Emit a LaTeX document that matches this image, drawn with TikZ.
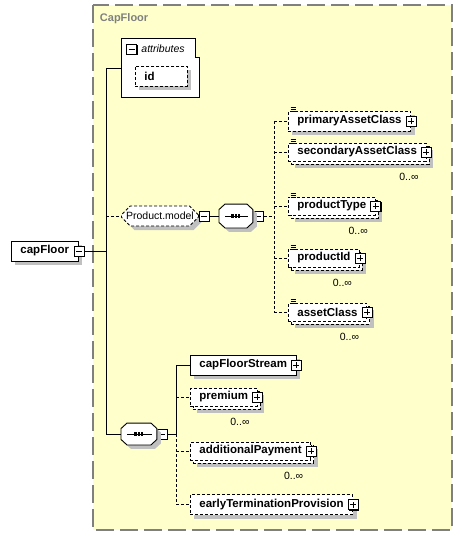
\documentclass[tikz,border=0pt]{standalone}
\usepackage{fontspec}
\setmainfont{Liberation Sans}
\usetikzlibrary{shadows,shapes.misc}

\definecolor{groupfill}{HTML}{FFFFCC}
\definecolor{groupline}{HTML}{808080}
\definecolor{shadowgray}{HTML}{C0C0C0}

\newcommand{\elemfont}{\fontsize{11.5}{13}\selectfont\bfseries}
\newcommand{\plainfont}{\fontsize{10.5}{12}\selectfont}

\tikzset{
  elem/.style={draw, fill=white, font=\elemfont, anchor=west, minimum height=20pt, inner xsep=9pt, inner ysep=0pt},
  opt/.style={dash pattern=on 3pt off 2pt},
  shad/.style={drop shadow={shadow xshift=4pt, shadow yshift=-4pt, opacity=1, fill=shadowgray}},
  multi/.style={minimum height=18pt, drop shadow={shadow xshift=7pt, shadow yshift=-7pt, opacity=1, fill=shadowgray},
    preaction={draw, fill=white, transform canvas={shift={(3pt,-3pt)}}}},
  grp/.style={draw, fill=white, chamfered rectangle, chamfered rectangle xsep=5pt, chamfered rectangle ysep=5pt,
    anchor=west, minimum height=20pt, inner sep=0pt, font=\plainfont},
  seqbox/.style={anchor=west, inner sep=0pt},
  icon/.style={draw, fill=white, minimum size=10pt, inner sep=0pt, line width=0.8pt,
    drop shadow={shadow xshift=1pt, shadow yshift=-1pt, opacity=1, fill=black}},
  minus/.style={icon, path picture={
    \draw ([xshift=2pt]path picture bounding box.west) -- ([xshift=-2pt]path picture bounding box.east);}},
  plus/.style={icon, path picture={
    \draw ([xshift=2pt]path picture bounding box.west) -- ([xshift=-2pt]path picture bounding box.east);
    \draw ([yshift=2pt]path picture bounding box.south) -- ([yshift=-2pt]path picture bounding box.north);}},
  occ/.style={font=\plainfont, anchor=east, inner sep=0pt}
}

\begin{document}
\begin{tikzpicture}[x=1pt,y=-1pt,line width=0.9pt]
        \useasboundingbox (0,0) rectangle (462,536);

        % group frame
        \draw [groupline,fill=groupfill,line width=1.2pt,dash pattern=on 18pt off 6pt] (93,5) rectangle (452,530);
        \node [font=\fontsize{11}{13}\selectfont\bfseries,text=groupline,anchor=west,inner sep=0pt] (title) at (99.5,18.5) {CapFloor};

        % attributes
        \node [minimum width=78pt,minimum height=59pt,inner sep=0pt,anchor=north west] (attrs) at (121,38) {};
        \draw [fill=white] (attrs.north west) -- ([xshift=-4.5pt]attrs.north east) -- ++(0,19) -- ++(4.5,0)
              -- (attrs.south east) -- (attrs.south west) -- cycle;
        \node [minus] (attrs-m) at (131.5,49) {};
        \node [font=\plainfont\itshape,anchor=west,inner sep=0pt] (attrs-t) at (141,48.5) {attributes};
        \node [elem,opt,shad,text width=34pt,align=left] (id) at (135,76) {id};

        % root element
        \node [elem,shad] (cf) at (11,251) {capFloor\hspace{4pt}};
        \node [minus] (cf-m) at ([xshift=1pt]cf.east) {};

        % product model group
        \node [grp,opt,shad,minimum width=77pt] (pm) at (121,216) {Product.model};
        \node [minus] (pm-m) at ([xshift=5pt]pm.east) {};
        \node [seqbox,minimum width=33pt,minimum height=23pt] (seq1) at (219,216) {};
        \node [minus] (seq1-m) at ([xshift=5.5pt]seq1.east) {};

        \node [elem,opt,shad] (pac) at (288,121) {primaryAssetClass\hspace{4pt}};
        \node [elem,opt,multi] (sac) at (288,152) {secondaryAssetClass\hspace{4pt}};
        \node [elem,opt,multi] (pt) at (288,206) {productType\hspace{4pt}};
        \node [elem,opt,multi] (pid) at (288,258) {productId\hspace{4pt}};
        \node [elem,opt,multi] (ac) at (288,312) {assetClass\hspace{4pt}};

        % second sequence
        \node [seqbox,minimum width=35pt,minimum height=21pt] (seq2) at (121,434) {};
        \node [minus] (seq2-m) at ([xshift=5.5pt]seq2.east) {};

        \node [elem,shad] (cfs) at (190,365) {capFloorStream\hspace{4pt}};
        \node [elem,opt,multi] (prem) at (190,397) {premium\hspace{4pt}};
        \node [elem,opt,multi] (addp) at (190,451) {additionalPayment\hspace{4pt}};
        \node [elem,opt,shad] (etp) at (190,504.5) {earlyTerminationProvision\hspace{4pt}};

        % expand icons
        \foreach \n in {pac,sac,pt,pid,ac,cfs,prem,addp,etp}
            \node [plus] (\n-p) at (\n.east) {};

        % simple type marks
        \foreach \n in {pac,sac,pt,pid,ac}
            \foreach \dy in {-3.2,-1.2,0.8}
                \draw [line width=0.7pt] ([shift={(2.5,\dy)}]\n.north west) -- ++(5,0);

        % sequence outlines and marks
        \foreach \s in {seq1,seq2} {
            \draw [fill=white,shad] ([xshift=6pt]\s.north west) -- ([xshift=-6pt]\s.north east)
                  -- ([yshift=-5.5pt]\s.north east) -- ([yshift=5.5pt]\s.south east)
                  -- ([xshift=-6pt]\s.south east) -- ([xshift=6pt]\s.south west)
                  -- ([yshift=5.5pt]\s.south west) -- ([yshift=-5.5pt]\s.north west) -- cycle;
            \draw [line width=0.9pt] ([xshift=6pt]\s.west) -- ([xshift=-5pt]\s.east);
            \foreach \dx in {-3.3,0,3.3}
                \fill ([shift={(\dx-1.2,-1.8)}]\s.center) rectangle ++(2.4,3.6);
        }

        % occurrences
        \node [occ] (sac-o) at ([shift={(-7.5,15.5)}]sac.south east) {0..∞};
        \node [occ] (pt-o) at ([shift={(-7.5,15.5)}]pt.south east) {0..∞};
        \node [occ] (pid-o) at ([shift={(-7.5,15.5)}]pid.south east) {0..∞};
        \node [occ] (ac-o) at ([shift={(-7.5,15.5)}]ac.south east) {0..∞};
        \node [occ] (prem-o) at ([shift={(-7.5,15.5)}]prem.south east) {0..∞};
        \node [occ] (addp-o) at ([shift={(-7.5,15.5)}]addp.south east) {0..∞};

        % connectors
        \coordinate (trunk) at (106,68);
        \coordinate (hubA) at (274,216);
        \coordinate (hubB) at (176,434);

        \draw (cf-m.east) -- (cf-m.east -| trunk);
        \draw (attrs.west |- trunk) -- (trunk) -- (trunk |- seq2.west) -- (seq2.west);
        \draw [opt] (trunk |- pm.west) -- (pm.west);
        \draw (pm-m.east) -- (seq1.west);

        \draw [opt] (seq1-m.east) -- (hubA);
        \draw [opt] (hubA |- pac.west) -- (hubA |- ac.west);
        \foreach \n in {pac,sac,pt,pid,ac}
            \draw [opt] (hubA |- \n.west) -- (\n.west);

        \draw (seq2-m.east) -- (hubB);
        \draw (hubB) -- (hubB |- cfs.west) -- (cfs.west);
        \draw [opt] (hubB) -- (hubB |- etp.west);
        \foreach \n in {prem,addp,etp}
            \draw [opt] (hubB |- \n.west) -- (\n.west);

\end{tikzpicture}
\end{document}
